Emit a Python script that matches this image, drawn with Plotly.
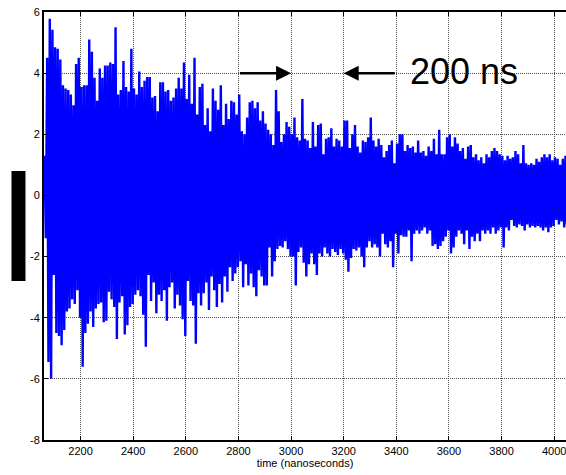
import numpy as np
import plotly.graph_objects as go

# ---- data (peak values per 10 ns sample) ----
t_start = 2063.0   # ns, first sample
t_step = 10.0      # ns between samples

upper = [
    1.3, 4.5, 5.78, 5.42, 4.85, 4.8, 4.45, 3.6, 3.5, 3.45,
    3.3, 2.95, 4.3, 4.5, 3.55, 3.6, 3.6, 5.1, 4.7, 3.85,
    3.1, 4.15, 3.85, 4.25, 4.25, 4.35, 4.3, 5.5, 3.3, 3.45,
    4.4, 3.55, 3.4, 4.8, 3.5, 3.3, 4.05, 3.55, 3.75, 3.87,
    3.87, 3.2, 3.25, 2.75, 3.7, 3.7, 3.4, 3.45, 3.1, 3.2,
    3.5, 3.85, 3.5, 4.35, 3.15, 3.95, 3.0, 4.5, 2.65, 3.55,
    3.65, 2.3, 2.85, 2.1, 3.5, 3.1, 2.8, 3.6, 2.3, 3.0,
    2.5, 3.1, 3.05, 2.65, 3.3, 2.1, 2.0, 2.55, 3.05,
    3.1, 2.85, 3.05, 2.45, 2.75, 2.35, 2.15, 2.0, 1.65, 3.45,
    2.75, 1.75, 2.0, 2.4, 2.25, 2.0, 2.55, 1.9, 1.8, 3.15,
    1.85, 1.8, 1.55, 2.4, 1.6, 2.3, 2.35, 1.35, 1.85, 1.9,
    2.2, 1.6, 1.85, 1.8, 1.6, 2.45, 2.45, 1.55, 2.0,
    2.3, 1.6, 1.4, 1.8, 1.75, 1.9, 2.55, 1.8, 1.6, 1.85,
    1.65, 1.25, 1.45, 1.65, 1.8, 1.05, 1.7, 2.0, 2.0, 1.45,
    1.65, 1.55, 1.6, 1.4, 1.8, 1.4, 1.45, 1.3, 1.6, 1.45,
    1.85, 1.35, 2.15, 1.35, 1.35, 1.9, 2.0, 1.6, 1.9, 1.7,
    1.45, 1.55, 1.2, 1.6, 1.65, 1.25, 1.35, 1.15, 1.25, 1.05,
    1.35, 1.25, 1.45, 1.55, 1.45, 1.35, 1.3, 1.15, 1.3, 1.2,
    1.25, 1.45, 1.35, 1.05, 1.65, 1.05, 1.0, 1.05, 1.0, 1.2,
    1.1, 1.25, 1.35, 1.25, 1.35, 1.15, 1.25, 1.2, 1.0, 1.2, 1.3,
]

lower = [
    -1.4, -5.45, -6.0, -2.6, -4.5, -4.6, -4.9, -4.4, -3.8, -3.7,
    -3.4, -3.55, -3.1, -4.0, -5.6, -4.5, -4.2, -3.8, -4.3, -3.7,
    -3.55, -3.5, -4.15, -4.1, -3.15, -3.4, -3.65, -4.7, -3.5, -3.3,
    -4.55, -4.25, -3.65, -3.55, -3.25, -3.1, -3.3, -3.9, -4.95, -2.6,
    -3.45, -2.85, -3.85, -3.25, -3.45, -3.1, -4.1, -3.0, -2.85, -3.7,
    -3.25, -3.6, -4.05, -4.6, -2.8, -3.45, -3.6, -4.85, -3.2, -3.6,
    -3.2, -2.85, -3.75, -2.65, -3.1, -3.65, -2.9, -3.5, -2.65, -3.15,
    -2.35, -2.8, -2.55, -2.35, -2.15, -3.0, -2.25, -2.95, -2.55,
    -3.0, -3.3, -2.45, -2.65, -2.95, -2.95, -1.7, -2.65, -2.15, -1.75,
    -1.65, -1.7, -1.5, -1.75, -2.0, -2.0, -2.95, -1.85, -1.7, -2.2,
    -2.65, -2.25, -1.9, -2.25, -2.6, -1.9, -2.0, -1.7, -1.9, -2.0,
    -1.75, -1.85, -1.95, -1.75, -1.9, -2.1, -2.5, -2.05, -1.75,
    -1.8, -1.7, -2.0, -2.35, -1.7, -1.5, -1.7, -1.6, -1.7, -2.0,
    -1.25, -1.6, -1.7, -1.5, -2.35, -1.25, -1.9, -1.3, -1.35, -1.35,
    -1.15, -2.15, -1.25, -1.15, -1.25, -1.15, -1.05, -1.25, -1.15, -1.65,
    -1.6, -1.75, -1.65, -1.5, -1.35, -1.15, -1.9, -1.7, -1.35, -1.15,
    -1.25, -1.6, -1.15, -1.75, -1.35, -1.5, -1.25, -1.5, -1.15, -1.25,
    -1.15, -1.25, -1.05, -1.25, -1.15, -1.05, -1.7, -1.05, -1.15, -0.8,
    -1.0, -1.05, -0.95, -1.0, -1.15, -0.95, -1.05, -1.0, -1.05, -1.0,
    -1.05, -1.15, -1.05, -1.2, -1.05, -1.0, -0.8, -0.95, -0.85, -1.05, -0.95,
]

x_ticks = [2200, 2400, 2600, 2800, 3000, 3200, 3400, 3600, 3800, 4000]
y_ticks = [-8, -6, -4, -2, 0, 2, 4, 6]
x_range = [2061, 4045]
y_range = [-8, 6]

arrow_y = 4
arrow_right = (2800, 3000)   # tail, head
arrow_left = (3400, 3200)    # tail, head
label_x = 3444
label_text = "200 ns"
x_title = "time (nanoseconds)"

assert len(upper) == len(lower)
n = len(upper)
t = t_start + t_step * np.arange(n)
xs = np.empty(2 * n)
ys = np.empty(2 * n)
xs[0::2] = t
xs[1::2] = t + t_step / 2
ys[0::2] = upper
ys[1::2] = lower

FONT = "Liberation Sans, Arial, sans-serif"
GRID = "1px,1px"
GRID_COLOR = "#505050"

fig = go.Figure()
fig.add_trace(go.Scatter(x=xs, y=ys, mode="lines",
                         line=dict(color="#0000FF", width=2.4),
                         showlegend=False, hoverinfo="skip"))

fig.update_layout(
    width=566, height=475,
    margin=dict(l=44, r=0, t=12, b=35),
    paper_bgcolor="white", plot_bgcolor="white",
    font=dict(family=FONT, size=11, color="black"),
    showlegend=False,
)
fig.update_xaxes(
    range=x_range, tickvals=x_ticks, ticktext=[str(v) for v in x_ticks],
    ticks="inside", ticklen=4, tickwidth=1, tickcolor="black",
    showline=True, linecolor="black", linewidth=2, mirror="ticks",
    showgrid=True, gridcolor=GRID_COLOR, griddash=GRID, gridwidth=1,
    zeroline=False, ticklabeloverflow="allow",
    title=dict(text=x_title, font=dict(size=11), standoff=1),
    tickfont=dict(size=11),
)
fig.update_yaxes(
    range=y_range, tickvals=y_ticks, ticktext=[str(v) for v in y_ticks],
    ticks="inside", ticklen=4, tickwidth=1, tickcolor="black",
    showline=True, linecolor="black", linewidth=2, mirror=False,
    showgrid=True, gridcolor=GRID_COLOR, griddash=GRID, gridwidth=1,
    zeroline=False, tickfont=dict(size=11), ticklabeloverflow="allow",
)

for tail, head in (arrow_right, arrow_left):
    fig.add_annotation(x=head, y=arrow_y, ax=tail, ay=arrow_y,
                       xref="x", yref="y", axref="x", ayref="y",
                       text="", showarrow=True, arrowhead=2,
                       arrowsize=1.2, arrowwidth=2.5, arrowcolor="black",
                       standoff=0, startstandoff=0)

fig.add_annotation(x=label_x, y=arrow_y, xref="x", yref="y",
                   text=label_text, showarrow=False,
                   xanchor="left", yanchor="middle", yshift=2,
                   font=dict(size=36, color="black", family=FONT))

# black box where the y-axis label sits
fig.add_shape(type="rect", xref="paper", yref="paper",
              x0=-0.0623, x1=-0.0355, y0=0.3715, y1=0.6285,
              fillcolor="black", line=dict(width=0), layer="above")

fig.write_html("out.html")
